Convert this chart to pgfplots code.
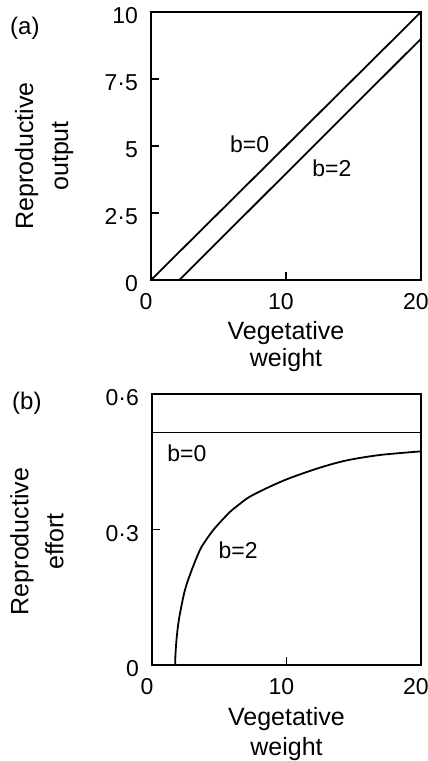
\documentclass[border=0pt]{standalone}
\usepackage{pgfplots}
\pgfplotsset{compat=1.18}
\usepackage{fontspec}
\setmainfont{Liberation Sans}
\begin{document}
\begin{tikzpicture}
\useasboundingbox (-75.5pt,6pt) rectangle (138.5pt,-374.5pt);
\pgfplotsset{
  myax/.style={
    scale only axis,
    clip=false,
    axis line style={line width=1pt},
    tick style={line width=0.8pt, black},
    major tick length=4pt,
    tick align=inside,
    xtick pos=bottom, ytick pos=left,
    xmin=0, xmax=20,
    xtick={0,10,20}, xticklabels={0,10,20},
    ticklabel style={font=\fontsize{11.5}{13}\selectfont},
    xticklabel style={yshift=-3pt, xshift=-2.5pt},
    yticklabel style={xshift=-3pt, yshift=-2pt},
  },
  curve/.style={black, no markers, line width=0.9pt},
}
% (a)
\begin{axis}[myax, at={(0pt,0pt)}, anchor=north west,
  width=135pt, height=134pt,
  ymin=0, ymax=10,
  ytick={0,2.5,5,7.5,10}, yticklabels={0,2·5,5,7·5,10}]
\addplot[curve] coordinates {(0,0) (20,10)};
\addplot[curve] coordinates {(2.1,0) (20,9)};
\node[font=\fontsize{11.5}{13}\selectfont] at (axis cs:7.3,5.06) {b=0};
\node[font=\fontsize{11.5}{13}\selectfont] at (axis cs:13.4,4.16) {b=2};
\node[font=\fontsize{12}{14}\selectfont] at (axis description cs:-0.467,0.94) {(a)};
\node[rotate=90, align=center, font=\fontsize{12.5}{17.5}\selectfont] at (axis description cs:-0.396,0.463) {Reproductive\\output};
\node[align=center, font=\fontsize{12.5}{13.5}\selectfont] at (axis description cs:0.5,-0.25) {Vegetative\\weight};
\end{axis}
% (b)
\begin{axis}[myax, at={(0.5pt,-191pt)}, anchor=north west,
  width=134.5pt, height=135.5pt,
  ymin=0, ymax=0.6,
  ytick={0,0.3,0.6}, yticklabels={0,0·3,0·6}]
\addplot[curve] coordinates {(0,0.515) (20,0.515)};
\addplot[curve, smooth] coordinates {(1.72,0) (1.74,0.02) (1.78,0.04) (1.85,0.065) (1.95,0.09) (2.08,0.114) (2.45,0.166) (2.95,0.21) (3.57,0.255) (4,0.276) (4.56,0.299) (5,0.314) (5.8,0.339) (6.5,0.356) (7.29,0.373) (8.77,0.395) (10.26,0.414) (12.49,0.437) (14.47,0.453) (16.95,0.465) (20,0.473)};
\node[font=\fontsize{11.5}{13}\selectfont] at (axis cs:2.6,0.469) {b=0};
\node[font=\fontsize{11.5}{13}\selectfont] at (axis cs:6.4,0.255) {b=2};
\node[font=\fontsize{12}{14}\selectfont] at (axis description cs:-0.465,0.967) {(b)};
\node[rotate=90, align=center, font=\fontsize{12.5}{17.5}\selectfont] at (axis description cs:-0.4275,0.456) {Reproductive\\effort};
\node[align=center, font=\fontsize{12.5}{15}\selectfont] at (axis description cs:0.5,-0.256) {Vegetative\\weight};
\end{axis}
\end{tikzpicture}
\end{document}
